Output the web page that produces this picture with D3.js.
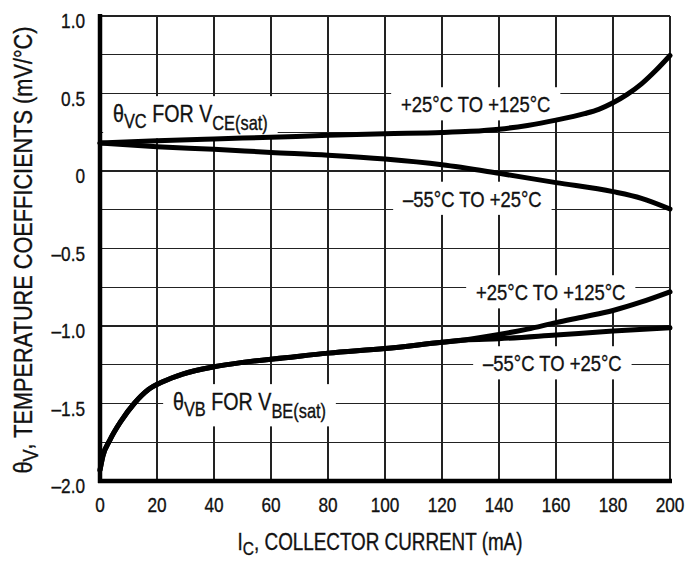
<!DOCTYPE html>
<html>
<head>
<meta charset="utf-8">
<script src="https://cdn.jsdelivr.net/npm/d3@7"></script>
<style>
  html, body { margin: 0; padding: 0; background: #fff; }
  svg { display: block; }
  text { font-family: "Liberation Sans", Arial, sans-serif; fill: #111; stroke: #111; stroke-width: 0.35; }
</style>
</head>
<body>
<svg id="chart" width="700" height="561"></svg>
<script>
// ---------- data ----------
const xTicks = [0, 20, 40, 60, 80, 100, 120, 140, 160, 180, 200];
const yTicks = [1.0, 0.5, 0, -0.5, -1.0, -1.5, -2.0];
const yTickLabels = ["1.0", "0.5", "0", "\u20130.5", "\u20131.0", "\u20131.5", "\u20132.0"];
const yGrid = [1.0, 0.75, 0.5, 0.25, 0, -0.25, -0.5, -0.75, -1.0, -1.25, -1.5, -1.75, -2.0];

// theta_VC for VCE(sat), +25°C to +125°C
const vcHighX = [0, 20, 40, 60, 80, 100, 120, 130, 140, 150, 160, 170, 175, 180, 185, 190, 195, 200];
const vcHighY = [0.18, 0.195, 0.207, 0.218, 0.23, 0.24, 0.248, 0.256, 0.27, 0.294, 0.328, 0.37, 0.398, 0.44, 0.494, 0.562, 0.648, 0.745];

// theta_VC for VCE(sat), -55°C to +25°C
const vcLowX = [0, 20, 40, 60, 80, 100, 120, 140, 160, 180, 190, 200];
const vcLowY = [0.18, 0.157, 0.14, 0.12, 0.102, 0.077, 0.04, -0.015, -0.075, -0.133, -0.176, -0.245];

// theta_VB for VBE(sat), +25°C to +125°C
const vbHighX = [0, 1, 3.5, 7.5, 12, 17, 22, 29, 40, 50, 65, 80, 100, 120, 128, 140, 150, 160, 170, 180, 190, 200];
const vbHighY = [-1.93, -1.84, -1.735, -1.61, -1.50, -1.41, -1.36, -1.31, -1.263, -1.235, -1.205, -1.175, -1.145, -1.105, -1.09, -1.055, -1.02, -0.978, -0.94, -0.90, -0.845, -0.78];

// theta_VB for VBE(sat), -55°C to +25°C
const vbLowX = [0, 1, 3.5, 7.5, 12, 17, 22, 29, 40, 50, 65, 80, 100, 120, 128, 140, 160, 180, 200];
const vbLowY = [-1.93, -1.84, -1.735, -1.61, -1.50, -1.41, -1.36, -1.31, -1.263, -1.235, -1.205, -1.175, -1.145, -1.105, -1.09, -1.082, -1.058, -1.033, -1.012];

// ---------- layout ----------
const NARROW = 0.82;   // horizontal condensing of the text (narrow face look)
const svg = d3.select("#chart");
const x = d3.scaleLinear().domain([0, 200]).range([100, 670]);
const y = d3.scaleLinear().domain([-2, 1]).range([481, 16]);

function ntext(parent, px, py, size, anchor, rotate) {
  const g = parent.append("g")
    .attr("transform", `translate(${px},${py})` + (rotate ? ` rotate(${rotate})` : "") + ` scale(${NARROW},1)`);
  return g.append("text").attr("x", 0).attr("y", 0).attr("font-size", size).attr("text-anchor", anchor || "start");
}

// grid
const grid = svg.append("g").attr("stroke", "#222").attr("stroke-width", 1.2).attr("shape-rendering", "crispEdges");
grid.selectAll("line.v").data(xTicks).join("line")
  .attr("x1", d => x(d)).attr("x2", d => x(d)).attr("y1", y(1)).attr("y2", y(-2));
grid.selectAll("line.h").data(yGrid).join("line")
  .attr("y1", d => y(d)).attr("y2", d => y(d)).attr("x1", x(0)).attr("x2", x(200));

// axes (thick left and bottom)
svg.append("line").attr("x1", x(0)).attr("x2", x(0)).attr("y1", y(1) - 2).attr("y2", y(-2) + 2)
  .attr("stroke", "#000").attr("stroke-width", 4.5);
svg.append("line").attr("x1", x(0) - 2).attr("x2", x(200) + 2).attr("y1", y(-2)).attr("y2", y(-2))
  .attr("stroke", "#000").attr("stroke-width", 4.5);

// tick labels
const yTickG = svg.append("g");
yTicks.forEach((d, i) => ntext(yTickG, 85, y(d) + 12, 21, "end").text(yTickLabels[i]));
const xTickG = svg.append("g");
xTicks.forEach(d => ntext(xTickG, x(d), y(-2) + 31, 21, "middle").text(d));

// axis titles
const xt = ntext(svg, 380, 550, 23, "middle");
xt.append("tspan").text("I");
xt.append("tspan").attr("font-size", 19).attr("dy", 5).text("C");
xt.append("tspan").attr("font-size", 23).attr("dy", -5).text(", COLLECTOR CURRENT (mA)");

const yt = ntext(svg, 32, 250, 26.5, "middle", -90);
yt.append("tspan").text("\u03B8");
yt.append("tspan").attr("font-size", 22).attr("dy", 6).text("V");
yt.append("tspan").attr("font-size", 26.5).attr("dy", -6).text(", TEMPERATURE COEFFICIENTS (mV/\u00B0C)");

// labels with white boxes
const labelLayer = svg.append("g");
function label(px, py, parts, size) {
  const t = ntext(labelLayer, px, py, size, "start");
  const rect = d3.select(t.node().parentNode).insert("rect", "text").attr("fill", "#fff");
  parts.forEach(p => {
    const s = t.append("tspan").text(p.t);
    if (p.sub) s.attr("font-size", p.sub).attr("dy", p.dy);
  });
  const b = t.node().getBBox();
  rect.attr("x", b.x - 12).attr("y", b.y - 4).attr("width", b.width + 24).attr("height", b.height + 8);
}
label(401, 112, [{t: "+25\u00B0C TO +125\u00B0C"}], 22.5);
label(403, 206.5, [{t: "\u201355\u00B0C TO +25\u00B0C"}], 22.5);
label(476, 300, [{t: "+25\u00B0C TO +125\u00B0C"}], 22.5);
label(483, 371, [{t: "\u201355\u00B0C TO +25\u00B0C"}], 22.5);
label(113, 122, [{t: "\u03B8"}, {t: "VC", sub: 20, dy: 6}, {t: " FOR V", sub: 24, dy: -6}, {t: "CE(sat)", sub: 20, dy: 8}], 24);
label(173, 410, [{t: "\u03B8"}, {t: "VB", sub: 20, dy: 6}, {t: " FOR V", sub: 24, dy: -6}, {t: "BE(sat)", sub: 20, dy: 8}], 24);

// curves
const line = d3.line().x(d => x(d[0])).y(d => y(d[1])).curve(d3.curveMonotoneX);
const series = [
  d3.zip(vcHighX, vcHighY),
  d3.zip(vcLowX, vcLowY),
  d3.zip(vbHighX, vbHighY),
  d3.zip(vbLowX, vbLowY)
];
svg.append("g").selectAll("path").data(series).join("path")
  .attr("d", line).attr("fill", "none").attr("stroke", "#000")
  .attr("stroke-width", 5).attr("stroke-linecap", "round").attr("stroke-linejoin", "round");
</script>
</body>
</html>
